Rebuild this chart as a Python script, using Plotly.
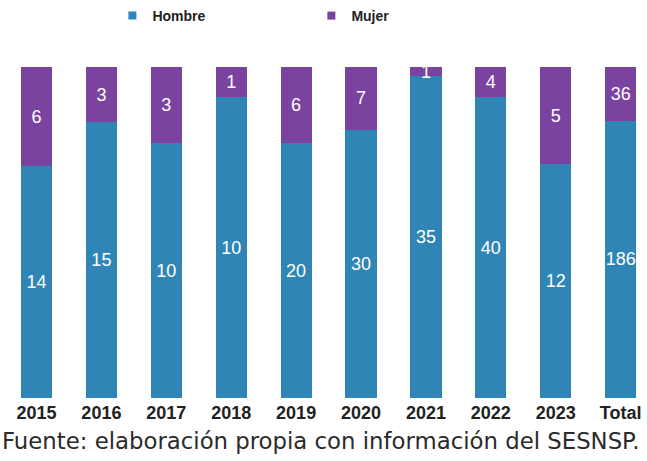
import plotly.graph_objects as go

categories = ["2015", "2016", "2017", "2018", "2019", "2020", "2021", "2022", "2023", "Total"]
hombre = [14, 15, 10, 10, 20, 30, 35, 40, 12, 186]
mujer = [6, 3, 3, 1, 6, 7, 1, 4, 5, 36]

BLUE = "#2f86b6"
PURPLE = "#7b43a0"
SANS = "Liberation Sans, Arial, sans-serif"

fig = go.Figure()
for name, vals, col in [("Hombre", hombre, BLUE), ("Mujer", mujer, PURPLE)]:
    fig.add_trace(go.Bar(
        x=categories, y=vals, name=name, marker=dict(color=col, line=dict(width=0)),
        text=[str(v) for v in vals], textposition="inside", insidetextanchor="middle",
        textangle=0, showlegend=False,
        textfont=dict(color="white", size=18, family=SANS),
        width=0.48,
    ))
# legend entries (small square markers like the reference)
for name, col in [("Hombre", BLUE), ("Mujer", PURPLE)]:
    fig.add_trace(go.Scatter(
        x=[None], y=[None], mode="markers", name=name,
        marker=dict(symbol="square", size=8, color=col), showlegend=True,
    ))

fig.update_layout(
    width=647, height=461,
    barmode="stack", barnorm="percent",
    margin=dict(l=0, r=0, t=66, b=63),
    paper_bgcolor="white", plot_bgcolor="white",
    uniformtext=dict(minsize=18, mode="show"),
    showlegend=True,
    legend=dict(orientation="h", x=0.1737, xanchor="left", y=1.1536, yanchor="middle",
                font=dict(family=SANS, size=14, color="#222", weight="bold"),
                entrywidth=154, itemwidth=30, traceorder="normal"),
    xaxis=dict(range=[-0.562, 9.406], showgrid=False, zeroline=False, showline=False,
               tickfont=dict(family=SANS, size=18, color="#222", weight="bold"),
               ticks="", ticklabelstandoff=2),
    yaxis=dict(range=[0, 100], visible=False, showgrid=False),
    annotations=[dict(
        text="Fuente: elaboración propia con información del SESNSP.",
        xref="paper", yref="paper", x=0, y=-0.1295, xanchor="left", yanchor="middle",
        showarrow=False, font=dict(family="DejaVu Sans", size=22.8, color="#2b2b2b"),
    )],
)

fig.write_html("out.html", config={"displayModeBar": False},
               post_script="document.body.style.margin='0';")
